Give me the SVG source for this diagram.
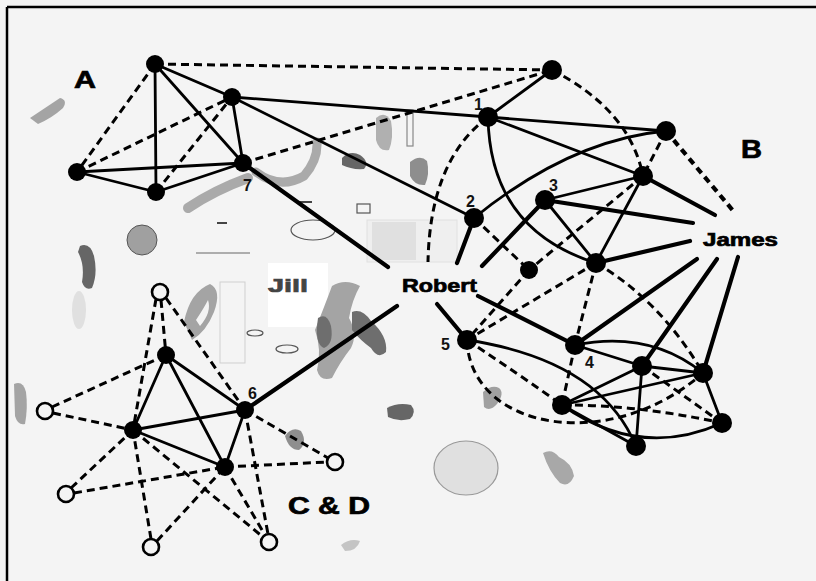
<svg xmlns="http://www.w3.org/2000/svg" width="816" height="581" viewBox="0 0 816 581">
<defs>
<style>
.s{stroke:#000;stroke-width:2.8;fill:none;stroke-linecap:round}
.t{stroke:#000;stroke-width:4.2;fill:none;stroke-linecap:round}
.d{stroke:#000;stroke-width:3;fill:none;stroke-dasharray:8 5}
.dt{stroke:#000;stroke-width:4.2;fill:none;stroke-dasharray:7 5}
.n{fill:#000}
.o{fill:#f4f4f4;stroke:#000;stroke-width:2.6}
.lbl{font-family:"Liberation Sans",Arial,sans-serif;font-weight:bold;fill:#000;stroke:#000;stroke-width:0.7}
.num{font-family:"Liberation Sans",Arial,sans-serif;font-size:16px;font-weight:bold;fill:#111}
.g1{fill:#a4a4a4}
.g2{fill:#666}
</style>
</defs>
<rect x="0" y="0" width="816" height="581" fill="#f4f4f4"/>
<g id="frame" stroke="#000" stroke-width="2.5">
<line x1="7" y1="7" x2="816" y2="7"/>
<line x1="7" y1="7" x2="7" y2="581"/>
</g>

<g id="background">
<path class="g1" d="M30,118 Q45,108 60,98 Q68,100 63,108 Q52,118 38,124 Z" fill="#8a8a8a"/>
<circle cx="142" cy="240" r="15" fill="#a0a0a0" stroke="#555" stroke-width="1"/>
<path class="g2" d="M80,246 Q90,242 94,256 Q98,274 92,288 Q85,291 82,282 Q85,265 78,252 Z"/>
<ellipse cx="79" cy="310" rx="7" ry="19" fill="#e0e0e0"/>
<path class="g1" d="M14,384 Q23,380 26,392 Q28,408 25,424 Q18,426 15,416 Z"/>
<path d="M188,208 Q215,190 248,178" stroke="#aaaaaa" stroke-width="10" fill="none" stroke-linecap="round"/>
<path d="M256,172 Q280,190 304,176 Q318,160 317,142" stroke="#aaaaaa" stroke-width="9" fill="none" stroke-linecap="round"/>
<path class="g2" d="M342,158 Q350,150 360,155 Q370,162 364,169 Q352,170 342,165 Z" fill="#555"/>
<path d="M376,118 Q385,110 391,121 Q394,138 389,150 Q379,152 376,140 Z" fill="#b0b0b0"/>
<rect x="407" y="110" width="6" height="36" fill="none" stroke="#888" stroke-width="1.2"/>
<path d="M410,162 Q420,154 427,161 Q430,174 425,185 Q415,186 410,176 Z" fill="#8e8e8e"/>
<line x1="297" y1="202" x2="312" y2="202" stroke="#444" stroke-width="2"/>
<line x1="217" y1="223" x2="227" y2="223" stroke="#444" stroke-width="2"/>
<line x1="196" y1="253" x2="250" y2="253" stroke="#666" stroke-width="1.2"/>
<rect x="357" y="204" width="13" height="9" fill="none" stroke="#555" stroke-width="1.2"/>
<ellipse cx="313" cy="230" rx="22" ry="10" fill="none" stroke="#555" stroke-width="1.2"/>
<rect x="367" y="220" width="90" height="42" fill="#efefef" stroke="#e0e0e0" stroke-width="1"/>
<rect x="372" y="222" width="44" height="38" fill="#e0e0e0"/>
<rect x="268" y="263" width="60" height="64" fill="#ffffff"/>
<rect x="220" y="282" width="25" height="81" fill="none" stroke="#cfcfcf" stroke-width="1"/>
<path d="M184,322 Q190,292 210,284 Q222,290 214,312 Q206,332 192,340 Z M196,320 Q204,308 208,300 Q212,312 200,326 Z" fill-rule="evenodd" fill="#a4a4a4"/>
<ellipse cx="255" cy="333" rx="8" ry="3" fill="none" stroke="#555" stroke-width="1.2"/>
<ellipse cx="287" cy="349" rx="11" ry="4" fill="none" stroke="#555" stroke-width="1.2"/>
<path d="M332,286 Q345,278 360,286 Q352,300 349,318 Q358,334 351,348 Q340,362 332,378 Q320,382 317,370 Q322,350 315,330 Q323,310 332,286 Z" fill="#a4a4a4"/>
<path d="M318,318 Q327,312 331,326 Q334,344 324,348 Q314,344 318,318 Z" fill="#6e6e6e"/>
<path d="M352,312 Q362,308 371,321 Q388,336 386,352 Q378,360 371,348 Q360,340 352,330 Z" fill="#6e6e6e"/>
<path d="M387,408 Q398,402 411,405 Q417,412 410,419 Q398,422 388,417 Z" fill="#666"/>
<path d="M285,436 Q292,426 301,431 Q308,443 299,450 Q289,450 285,436 Z" fill="#8e8e8e"/>
<path d="M483,392 Q492,384 499,388 Q505,393 497,404 Q490,412 484,407 Z" fill="#a0a0a0"/>
<ellipse cx="466" cy="468" rx="32" ry="27" fill="#e0e0e0" stroke="#999" stroke-width="1.2"/>
<path d="M543,453 Q552,448 559,457 Q572,463 574,476 Q569,488 560,483 Q549,472 543,453 Z" fill="#a8a8a8"/>
<path d="M341,545 Q350,538 360,541 Q357,551 345,551 Z" fill="#c4c4c4"/>
</g>

<g id="connectors">
<line class="s" x1="155" y1="64" x2="156" y2="192"/>
<line class="s" x1="155" y1="64" x2="232" y2="97"/>
<line class="s" x1="155" y1="64" x2="243" y2="163"/>
<line class="s" x1="232" y1="97" x2="243" y2="163"/>
<line class="s" x1="77" y1="172" x2="243" y2="163"/>
<line class="s" x1="77" y1="172" x2="156" y2="192"/>
<line class="s" x1="156" y1="192" x2="243" y2="163"/>
<line class="s" x1="232" y1="97" x2="488" y2="117"/>
<line class="s" x1="232" y1="97" x2="474" y2="218"/>
<line class="t" x1="243" y1="163" x2="388" y2="267"/>
<line class="d" x1="155" y1="64" x2="77" y2="172"/>
<line class="d" x1="77" y1="172" x2="232" y2="97"/>
<line class="d" x1="156" y1="192" x2="232" y2="97"/>
<line class="d" x1="155" y1="64" x2="552" y2="70"/>
<line class="d" x1="243" y1="163" x2="552" y2="70"/>
<line class="s" x1="552" y1="70" x2="488" y2="117"/>
<line class="s" x1="488" y1="117" x2="666" y2="131"/>
<line class="s" x1="488" y1="117" x2="643" y2="176"/>
<line class="s" x1="545" y1="200" x2="643" y2="176"/>
<line class="s" x1="545" y1="200" x2="596" y2="263"/>
<line class="s" x1="643" y1="176" x2="596" y2="263"/>
<path class="s" d="M488,117 Q490,230 596,263"/>
<path class="s" d="M666,131 Q570,140 474,218"/>
<line class="t" x1="545" y1="200" x2="693" y2="223"/>
<line class="t" x1="643" y1="176" x2="715" y2="215"/>
<line class="t" x1="596" y1="263" x2="690" y2="241"/>
<line class="t" x1="545" y1="200" x2="482" y2="266"/>
<line class="t" x1="474" y1="218" x2="457" y2="263"/>
<path class="d" d="M552,70 Q630,110 643,176"/>
<line class="d" x1="666" y1="131" x2="643" y2="176"/>
<line class="dt" x1="666" y1="131" x2="735" y2="213"/>
<path class="d" d="M488,117 Q430,160 428,262"/>
<line class="d" x1="474" y1="218" x2="529" y2="270"/>
<line class="d" x1="643" y1="176" x2="529" y2="270"/>
<line class="d" x1="529" y1="270" x2="467" y2="340"/>
<line class="d" x1="596" y1="263" x2="467" y2="340"/>
<line class="d" x1="596" y1="263" x2="575" y2="345"/>
<line class="d" x1="575" y1="345" x2="562" y2="405"/>
<path class="d" d="M596,263 Q660,300 703,373"/>
<line class="t" x1="478" y1="296" x2="575" y2="345"/>
<line class="t" x1="437" y1="304" x2="467" y2="340"/>
<line class="t" x1="397" y1="306" x2="245" y2="410"/>
<line class="t" x1="697" y1="259" x2="575" y2="345"/>
<line class="t" x1="717" y1="259" x2="642" y2="366"/>
<line class="t" x1="738" y1="257" x2="703" y2="373"/>
<line class="s" x1="575" y1="345" x2="642" y2="366"/>
<path class="s" d="M575,345 Q650,330 703,373"/>
<line class="s" x1="642" y1="366" x2="703" y2="373"/>
<line class="s" x1="562" y1="405" x2="642" y2="366"/>
<line class="s" x1="562" y1="405" x2="703" y2="373"/>
<line class="s" x1="562" y1="405" x2="636" y2="446"/>
<line class="s" x1="642" y1="366" x2="636" y2="446"/>
<line class="s" x1="703" y1="373" x2="722" y2="423"/>
<path class="s" d="M562,405 Q640,460 722,423"/>
<path class="s" d="M467,340 Q600,360 636,446"/>
<path class="d" d="M467,340 Q520,375 562,405"/>
<path class="d" d="M467,340 C470,430 610,455 703,373"/>
<path class="d" d="M562,405 Q640,405 722,423"/>
<line class="d" x1="642" y1="366" x2="722" y2="423"/>
<line class="s" x1="166" y1="355" x2="133" y2="430"/>
<line class="s" x1="166" y1="355" x2="245" y2="410"/>
<line class="s" x1="166" y1="355" x2="225" y2="467"/>
<line class="s" x1="133" y1="430" x2="245" y2="410"/>
<line class="s" x1="133" y1="430" x2="225" y2="467"/>
<line class="s" x1="245" y1="410" x2="225" y2="467"/>
<line class="d" x1="161" y1="300" x2="166" y2="355"/>
<line class="d" x1="156" y1="299" x2="133" y2="430"/>
<line class="d" x1="166" y1="298" x2="245" y2="410"/>
<line class="d" x1="52" y1="407" x2="166" y2="355"/>
<line class="d" x1="53" y1="413" x2="133" y2="430"/>
<line class="d" x1="71" y1="488" x2="133" y2="430"/>
<line class="d" x1="74" y1="493" x2="225" y2="467"/>
<line class="d" x1="151" y1="539" x2="133" y2="430"/>
<line class="d" x1="157" y1="541" x2="225" y2="467"/>
<line class="d" x1="133" y1="430" x2="263" y2="537"/>
<line class="d" x1="225" y1="467" x2="265" y2="535"/>
<line class="d" x1="245" y1="410" x2="268" y2="534"/>
<line class="d" x1="245" y1="410" x2="328" y2="458"/>
<line class="d" x1="225" y1="467" x2="327" y2="462"/>
</g>

<g id="cluster-A">
<circle id="a1" class="n" cx="155" cy="64" r="9"/>
<circle id="a2" class="n" cx="232" cy="97" r="9"/>
<circle id="a3" class="n" cx="77" cy="172" r="9"/>
<circle id="a4" class="n" cx="156" cy="192" r="9"/>
<circle id="a5" class="n" cx="243" cy="163" r="9"/>
<text class="lbl" x="74" y="88" font-size="24" textLength="22" lengthAdjust="spacingAndGlyphs">A</text>
<text class="num" x="243" y="191" font-size="13">7</text>
</g>
<g id="cluster-B">
<circle id="b-top" class="n" cx="552" cy="70" r="10"/>
<circle id="b1" class="n" cx="488" cy="117" r="10"/>
<circle id="b-r1" class="n" cx="666" cy="131" r="10"/>
<circle id="b-r2" class="n" cx="643" cy="176" r="10"/>
<circle id="b3" class="n" cx="545" cy="200" r="10"/>
<circle id="b2" class="n" cx="474" cy="218" r="10"/>
<circle id="b-d" class="n" cx="529" cy="270" r="9"/>
<circle id="b-m" class="n" cx="596" cy="263" r="10"/>
<circle id="b5" class="n" cx="467" cy="340" r="10"/>
<circle id="b4" class="n" cx="575" cy="345" r="10"/>
<circle id="b-p" class="n" cx="642" cy="366" r="10"/>
<circle id="b-q" class="n" cx="703" cy="373" r="10"/>
<circle id="b-s" class="n" cx="562" cy="405" r="10"/>
<circle id="b-u" class="n" cx="722" cy="423" r="10"/>
<circle id="b-v" class="n" cx="636" cy="446" r="10"/>
<text class="lbl" x="741" y="158" font-size="25" textLength="21" lengthAdjust="spacingAndGlyphs">B</text>
<text class="num" x="474" y="110">1</text>
<text class="num" x="466" y="207">2</text>
<text class="num" x="549" y="191">3</text>
<text class="num" x="585" y="368">4</text>
<text class="num" x="441" y="350">5</text>
</g>
<g id="cluster-CD">
<circle id="c-top" class="o" cx="160" cy="292" r="8"/>
<circle id="c1" class="n" cx="166" cy="355" r="9"/>
<circle id="c-left" class="o" cx="45" cy="411" r="8"/>
<circle id="c2" class="n" cx="133" cy="430" r="9"/>
<circle id="c6" class="n" cx="245" cy="410" r="9"/>
<circle id="c4" class="n" cx="225" cy="467" r="9"/>
<circle id="c-right" class="o" cx="335" cy="462" r="8"/>
<circle id="c-ll" class="o" cx="66" cy="494" r="8"/>
<circle id="c-b1" class="o" cx="151" cy="547" r="8"/>
<circle id="c-b2" class="o" cx="269" cy="542" r="8"/>
<text class="num" x="248" y="399">6</text>
<text class="lbl" x="288" y="514" font-size="23" textLength="82" lengthAdjust="spacingAndGlyphs">C &amp; D</text>
</g>
<g id="people">
<text id="robert" class="lbl" x="402" y="292" font-size="19" textLength="75" lengthAdjust="spacingAndGlyphs">Robert</text>
<text id="james" class="lbl" x="703" y="246" font-size="18" textLength="75" lengthAdjust="spacingAndGlyphs">James</text>
<text id="jill" class="lbl" x="268" y="292" font-size="19" style="fill:#444;stroke:#444" textLength="40" lengthAdjust="spacingAndGlyphs">Jill</text>
</g>
</svg>
